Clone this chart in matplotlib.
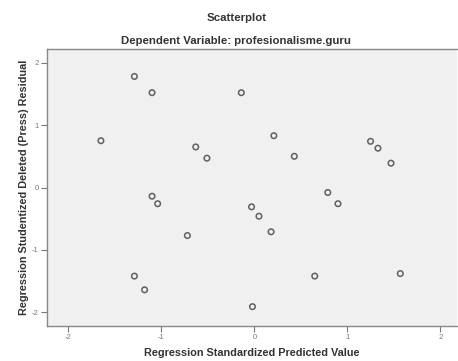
import matplotlib
matplotlib.use("Agg")
import matplotlib.pyplot as plt

predicted = [-1.29, -1.10, -0.14, -1.65, -0.63, -0.51, 0.21, 0.43, 1.25, 1.33, 1.47,
             -1.10, -1.04, -0.72, -0.03, 0.05, 0.18, 0.79, 0.90,
             -1.29, -1.18, 0.65, 1.57, -0.02]
residual = [1.78, 1.52, 1.52, 0.75, 0.65, 0.47, 0.83, 0.50, 0.74, 0.63, 0.39,
            -0.14, -0.26, -0.77, -0.31, -0.46, -0.71, -0.08, -0.26,
            -1.42, -1.64, -1.42, -1.38, -1.91]
xticks = [-2, -1, 0, 1, 2]
yticks = [-2, -1, 0, 1, 2]

plt.rcParams['font.family'] = ['Liberation Sans', 'DejaVu Sans']

fig = plt.figure(figsize=(4.58, 3.61), dpi=100)
ax = fig.add_axes([47/458, 1-326/361, (457-47)/458, (326-49)/361])
ax.set_facecolor('#f0f0f0')
ax.scatter(predicted, residual, s=16, facecolors='none', edgecolors='#606060', linewidths=1.1)
ax.set_xlim(-2.23, 2.18)
ax.set_ylim(-2.22, 2.22)
ax.set_xticks(xticks)
ax.set_yticks(yticks)
ax.set_xticklabels([str(v) for v in xticks])
ax.set_yticklabels([str(v) for v in yticks])
ax.tick_params(labelsize=5.5, colors='#777777', length=4, width=0.8, pad=2)
for side in ['left', 'bottom', 'top']:
    ax.spines[side].set_color('#888888')
    ax.spines[side].set_linewidth(1.0)
ax.spines['right'].set_visible(False)
ax.set_xlabel('Regression Standardized Predicted Value', fontsize=7.8, fontweight='bold', color='#333333', labelpad=5)
ax.set_ylabel('Regression Studentized Deleted (Press) Residual', fontsize=7.8, fontweight='bold', color='#333333', labelpad=2)
fig.text(237/458, 1-18/361, 'Scatterplot', ha='center', va='center', fontsize=8.2, fontweight='bold', color='#333333')
fig.text(236/458, 1-41/361, 'Dependent Variable: profesionalisme.guru', ha='center', va='center', fontsize=8.2, fontweight='bold', color='#333333')
fig.savefig('out.png', dpi=100, facecolor='white')
